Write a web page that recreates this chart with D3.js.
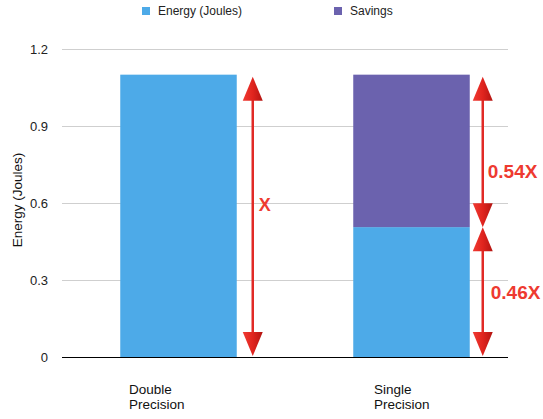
<!DOCTYPE html>
<html><head><meta charset="utf-8">
<script src="https://cdn.jsdelivr.net/npm/d3@7"></script>
<style>body{margin:0;background:#fff}svg{display:block}text{font-family:"Liberation Sans",Arial,Helvetica,sans-serif}</style>
</head><body>
<svg id="c" width="543" height="419"></svg>
<script>
const categories = ["Double Precision", "Single Precision"];
const energy = [1.1, 0.506];
const savings = [0, 0.594];
const yTicks = [0, 0.3, 0.6, 0.9, 1.2];
const seriesNames = ["Energy (Joules)", "Savings"];
const arrowLabels = [["X"], ["0.54X", "0.46X"]];

const colors = {energy: "#4DAAE8", savings: "#6B62AE", red: "#E12A26"};
const svg = d3.select("#c");

const y = d3.scaleLinear().domain([0, 1.2]).range([357, 49]);
const x = d3.scaleBand().domain(categories).range([62, 528]).paddingInner(0.5).paddingOuter(0.25);
const xl = d3.scalePoint().domain(categories).range([129, 374]);
const plotL = 62, plotR = 508;

const defs = svg.append("defs");
const g = defs.append("linearGradient").attr("id", "rg").attr("x1", "0").attr("x2", "1").attr("y1", "0").attr("y2", "0");
g.append("stop").attr("offset", "0").attr("stop-color", "#F03A32");
g.append("stop").attr("offset", "0.5").attr("stop-color", "#E0241E");
g.append("stop").attr("offset", "1").attr("stop-color", "#B31512");

// gridlines + tick labels
const yAxis = d3.axisLeft(y).tickValues(yTicks).tickSize(-(plotR - plotL)).tickPadding(14)
  .tickFormat(d => d === 0 ? "0" : d3.format(".1f")(d));
const ga = svg.append("g").attr("transform", `translate(${plotL},0)`).call(yAxis);
ga.select(".domain").remove();
ga.selectAll(".tick line").attr("stroke", "#cfcfcf").attr("stroke-width", 1);
ga.selectAll(".tick text").attr("font-size", 13).attr("fill", "#222")
  .attr("font-family", '"Liberation Sans",Arial,sans-serif');

// bars
const stack = categories.map((c, i) => ({c, e: energy[i], s: savings[i]}));
svg.append("g").selectAll("rect").data(stack).join("rect")
  .attr("x", d => x(d.c)).attr("width", x.bandwidth())
  .attr("y", d => y(d.e)).attr("height", d => y(0) - y(d.e)).attr("fill", colors.energy);
svg.append("g").selectAll("rect").data(stack.filter(d => d.s > 0)).join("rect")
  .attr("x", d => x(d.c)).attr("width", x.bandwidth())
  .attr("y", d => y(d.e + d.s)).attr("height", d => y(d.e) - y(d.e + d.s)).attr("fill", colors.savings);
svg.append("line").attr("x1", plotL).attr("x2", plotR).attr("y1", y(0) + 0.5).attr("y2", y(0) + 0.5)
  .attr("stroke", "#000").attr("stroke-width", 1.2);

// arrows
function arrow(xp, y1, y2) {
  const hw = 10, hh = 24;
  const ag = svg.append("g");
  ag.append("line").attr("x1", xp).attr("x2", xp).attr("y1", y1 + hh - 2).attr("y2", y2 - hh + 2)
    .attr("stroke", colors.red).attr("stroke-width", 2.5);
  ag.append("path").attr("d", `M${xp},${y1} L${xp + hw},${y1 + hh} L${xp - hw},${y1 + hh} Z`).attr("fill", "url(#rg)");
  ag.append("path").attr("d", `M${xp},${y2} L${xp + hw},${y2 - hh} L${xp - hw},${y2 - hh} Z`).attr("fill", "url(#rg)");
}
const ax0 = x(categories[0]) + x.bandwidth() + 16;
arrow(ax0, y(energy[0] + savings[0]) + 2, y(0) - 1);
const ax1 = x(categories[1]) + x.bandwidth() + 13;
arrow(ax1, y(energy[1] + savings[1]) + 2, y(energy[1]));
arrow(ax1, y(energy[1]), y(0) - 1);

const lab = (t, xp, yp, fs) => svg.append("text").text(t).attr("x", xp).attr("y", yp)
  .attr("font-size", fs).attr("font-weight", "bold").attr("fill", "#EE3A30").attr("dominant-baseline", "central");
lab(arrowLabels[0][0], ax0 + 6, y((energy[0] + savings[0]) / 2) - 11, 18);
lab(arrowLabels[1][0], ax1 + 5, y(energy[1] + savings[1] / 2) + 21, 19);
lab(arrowLabels[1][1], ax1 + 8, y(energy[1] / 2), 19);

// x labels
svg.append("g").selectAll("text").data(categories).join("text")
  .attr("x", d => xl(d)).attr("y", 394).attr("font-size", 13.5).attr("fill", "#111")
  .each(function(d) {
    d3.select(this).selectAll("tspan").data(d.split(" ")).join("tspan")
      .attr("x", xl(d)).attr("dy", (t, i) => i ? 15 : 0).text(t => t);
  });

// y title
svg.append("text").text("Energy (Joules)").attr("transform", "translate(17,200) rotate(-90)")
  .attr("text-anchor", "middle").attr("dominant-baseline", "central").attr("font-size", 13.5).attr("fill", "#111");

// legend
const legX = [142, 334];
const lg = svg.append("g").selectAll("g").data(seriesNames).join("g")
  .attr("transform", (d, i) => `translate(${legX[i]},0)`);
lg.append("rect").attr("x", 0).attr("y", 7).attr("width", 8).attr("height", 8)
  .attr("fill", (d, i) => i ? colors.savings : colors.energy);
lg.append("text").text(d => d).attr("x", 16).attr("y", 11).attr("dominant-baseline", "central")
  .attr("font-size", 12).attr("fill", "#222");
</script>
</body></html>
